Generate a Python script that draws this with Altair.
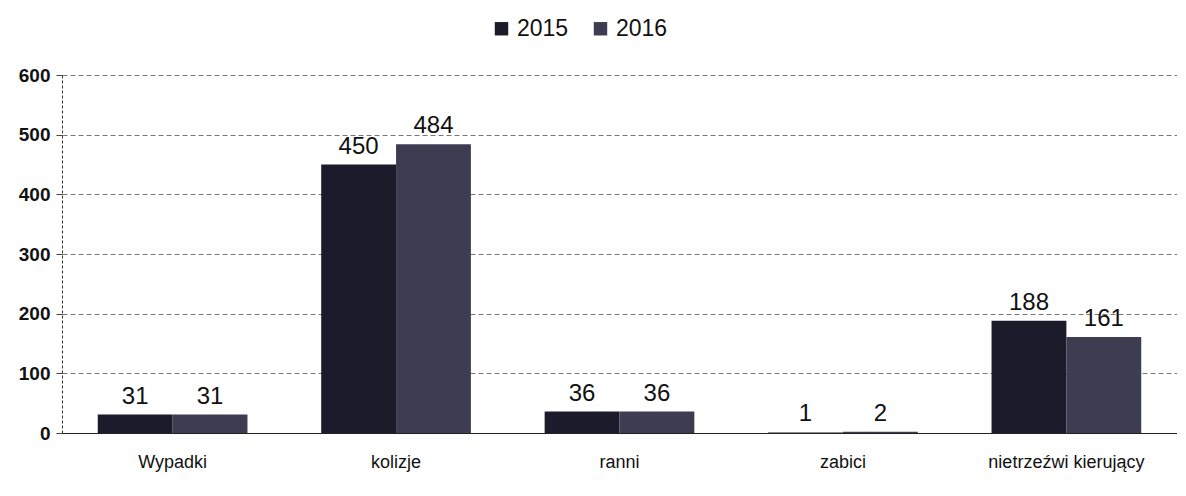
import altair as alt
import pandas as pd

categories = ["Wypadki", "kolizje", "ranni", "zabici", "nietrzeźwi kierujący"]
years = ["2015", "2016"]
values_2015 = [31, 450, 36, 1, 188]
values_2016 = [31, 484, 36, 2, 161]

rows = []
for c, a, b in zip(categories, values_2015, values_2016):
    rows.append({"kat": c, "rok": "2015", "v": a})
    rows.append({"kat": c, "rok": "2016", "v": b})
df = pd.DataFrame(rows)

color = alt.Color("rok:N", scale=alt.Scale(domain=years, range=["#1b1b2b", "#3e3c50"]),
                  legend=alt.Legend(title=None, orient="none", legendX=428, legendY=-58,
                                    direction="horizontal", symbolType="square", symbolSize=180,
                                    labelFontSize=23, labelFont="Liberation Sans", labelColor="#111",
                                    columnPadding=20, symbolStrokeWidth=0, labelOffset=4))

x = alt.X("kat:N", sort=categories, title=None,
          scale=alt.Scale(paddingInner=0.33, paddingOuter=0.16),
          axis=alt.Axis(labelAngle=0, labelFontSize=18, labelFont="Liberation Sans", labelColor="#111",
                        labelPadding=20, domainColor="#222", ticks=False))
y = alt.Y("v:Q", title=None, scale=alt.Scale(domain=[0, 600]),
          axis=alt.Axis(values=[0, 100, 200, 300, 400, 500, 600], labelFontSize=19,
                        labelFont="Liberation Sans", labelColor="#111", labelFontWeight="bold",
                        gridDash=[5, 3], gridColor="#777", domainColor="#333", domainDash=[3, 2],
                        tickColor="#444", tickSize=6, labelPadding=6))
xo = alt.XOffset("rok:N", sort=years)

bars = alt.Chart(df).mark_bar().encode(x=x, y=y, xOffset=xo, color=color)
labels = alt.Chart(df).mark_text(dy=-18, fontSize=24, font="Liberation Sans", color="#111").encode(
    x=x, y=y, xOffset=xo, text="v:Q")

chart = (bars + labels).properties(
    width=1115, height=358,
    autosize=alt.AutoSizeParams(type="none"),
    padding={"left": 54, "top": 67, "right": 0, "bottom": 55},
).configure_view(stroke=None).configure_axis(gridWidth=1)

chart.save("out.html", embed_options={"renderer": "svg", "actions": False})
